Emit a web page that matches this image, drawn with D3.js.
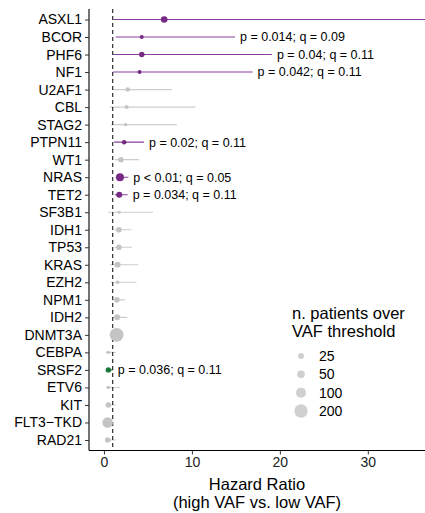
<!DOCTYPE html>
<html>
<head>
<meta charset="utf-8">
<script src="https://cdn.jsdelivr.net/npm/d3@7"></script>
<style>
  body { margin: 0; background: #fff; }
  svg { display: block; font-family: "Liberation Sans", Arial, sans-serif; }
</style>
</head>
<body>
<div id="chart"></div>
<script>
const genes = ['ASXL1', 'BCOR', 'PHF6', 'NF1', 'U2AF1', 'CBL', 'STAG2', 'PTPN11', 'WT1', 'NRAS',
    'TET2', 'SF3B1', 'IDH1', 'TP53', 'KRAS', 'EZH2', 'NPM1', 'IDH2', 'DNMT3A', 'CEBPA',
    'SRSF2', 'ETV6', 'KIT', 'FLT3\u2212TKD', 'RAD21'];
const hr = [6.85, 4.3, 4.3, 4.05, 2.7, 2.58, 2.47, 2.3, 1.93, 1.82,
    1.74, 1.74, 1.7, 1.7, 1.55, 1.55, 1.48, 1.5, 1.44, 0.5,
    0.5, 0.5, 0.5, 0.42, 0.42];
const lower = [1.06, 1.33, 1.05, 1.05, 1.0, 0.68, 0.8, 1.14, 1.25, 1.33,
    1.25, 0.5, 1.2, 1.2, 0.68, 0.8, 1.0, 1.0, 1.1, 0.2,
    0.26, 0.23, 0.2, 0.18, 0.18];
const upper = [45, 14.9, 19.1, 16.9, 7.7, 10.4, 8.3, 4.55, 4.0, 2.77,
    2.7, 5.6, 3.1, 3.2, 3.9, 3.7, 2.4, 2.65, 1.75, 1.33,
    1.0, 1.8, 1.33, 0.95, 1.36];
const nPatients = [33, 6, 18, 6, 10, 6, 3, 10, 18, 55,
    25, 2, 20, 20, 25, 4, 20, 25, 220, 3,
    18, 3, 18, 114, 18];
// genes with p < 0.05 (coloured by direction)
const significant = ['ASXL1', 'BCOR', 'PHF6', 'NF1', 'PTPN11', 'NRAS', 'TET2', 'SRSF2'];
const annotGenes = ['BCOR', 'PHF6', 'NF1', 'PTPN11', 'NRAS', 'TET2', 'SRSF2'];
const annotText = ['p = 0.014; q = 0.09', 'p = 0.04; q = 0.11', 'p = 0.042; q = 0.11',
    'p = 0.02; q = 0.11', 'p < 0.01; q = 0.05', 'p = 0.034; q = 0.11', 'p = 0.036; q = 0.11'];
const xTicks = [0, 10, 20, 30];
const legendSizes = [25, 50, 100, 200];

const width = 425, height = 513;
const plotLeft = 89, plotRight = 425, plotTop = 9, plotBottom = 450.5;

const rows = genes.map((g, i) => {
    const a = annotGenes.indexOf(g);
    return {
        gene: g, hr: hr[i], lo: lower[i], hi: upper[i], n: nPatients[i],
        sig: significant.includes(g),
        label: a >= 0 ? annotText[a] : null
    };
});

const purple = '#762a83', green = '#1b7837', grey = '#c4c4c4';
const colorOf = d => d.sig ? (d.hr > 1 ? purple : green) : grey;
const lineColorOf = d => d.sig ? (d.hr > 1 ? '#86409a' : green) : '#cdcdcd';

const svg = d3.select('#chart').append('svg')
    .attr('width', width)
    .attr('height', height);

const x = d3.scaleLinear().domain([-1.7, 36.5]).range([plotLeft, plotRight]);
const y = d3.scalePoint().domain(genes).range([plotTop, plotBottom]).padding(0.6);
const r = d3.scaleSqrt().domain([0, 200]).range([1, 6.7]);

svg.append('clipPath').attr('id', 'plotclip')
    .append('rect')
    .attr('x', plotLeft).attr('y', plotTop)
    .attr('width', plotRight - plotLeft).attr('height', plotBottom - plotTop);

const plot = svg.append('g').attr('clip-path', 'url(#plotclip)');

// confidence intervals
plot.selectAll('.ci')
    .data(rows)
    .enter()
    .append('line')
    .attr('class', 'ci')
    .attr('x1', d => x(d.lo))
    .attr('x2', d => x(d.hi))
    .attr('y1', d => y(d.gene))
    .attr('y2', d => y(d.gene))
    .attr('stroke', lineColorOf)
    .attr('stroke-width', 1.1);

// reference line at HR = 1
plot.append('line')
    .attr('x1', x(1)).attr('x2', x(1))
    .attr('y1', plotTop).attr('y2', plotBottom)
    .attr('stroke', '#000')
    .attr('stroke-width', 1)
    .attr('stroke-dasharray', '4,3');

plot.selectAll('.pt')
    .data(rows)
    .enter()
    .append('circle')
    .attr('class', 'pt')
    .attr('cx', d => x(d.hr))
    .attr('cy', d => y(d.gene))
    .attr('r', d => r(d.n))
    .attr('fill', colorOf);

plot.selectAll('.lab')
    .data(rows.filter(d => d.label))
    .enter()
    .append('text')
    .attr('class', 'lab')
    .attr('x', d => x(d.hi) + 5)
    .attr('y', d => y(d.gene))
    .attr('dy', '0.35em')
    .attr('font-size', 12.5)
    .attr('fill', '#000')
    .text(d => d.label);

// y axis
const yAxis = svg.append('g')
    .attr('transform', `translate(${plotLeft},0)`)
    .call(d3.axisLeft(y).tickSize(4).tickPadding(3));
yAxis.select('.domain').attr('d', `M0,${plotTop}V${plotBottom}`).attr('stroke', '#000').attr('stroke-width', 1.1);
yAxis.selectAll('.tick line').attr('stroke', '#333');
yAxis.selectAll('text').attr('font-size', 14).attr('fill', '#000').attr('font-family', 'Liberation Sans, Arial, sans-serif');

// x axis
const xAxis = svg.append('g')
    .attr('transform', `translate(0,${plotBottom})`)
    .call(d3.axisBottom(x).tickValues(xTicks).tickSize(4).tickPadding(3));
xAxis.select('.domain').attr('d', `M${plotLeft},0H${plotRight}`).attr('stroke', '#000').attr('stroke-width', 1.1);
xAxis.selectAll('.tick line').attr('stroke', '#333');
xAxis.selectAll('text').attr('font-size', 14).attr('fill', '#222').attr('font-family', 'Liberation Sans, Arial, sans-serif');

const midX = (plotLeft + plotRight) / 2;
svg.append('text')
    .attr('x', midX).attr('y', 490)
    .attr('text-anchor', 'middle')
    .attr('font-size', 16.5)
    .text('Hazard Ratio');
svg.append('text')
    .attr('x', midX).attr('y', 508)
    .attr('text-anchor', 'middle')
    .attr('font-size', 16.5)
    .text('(high VAF vs. low VAF)');

// size legend
const legend = svg.append('g');
legend.append('text')
    .attr('x', 292).attr('y', 319)
    .attr('font-size', 16.5)
    .text('n. patients over');
legend.append('text')
    .attr('x', 292).attr('y', 337)
    .attr('font-size', 16.5)
    .text('VAF threshold');

const ly = d3.scalePoint().domain(legendSizes).range([356, 411]);
const items = legend.selectAll('.item')
    .data(legendSizes)
    .enter()
    .append('g')
    .attr('class', 'item')
    .attr('transform', d => `translate(301,${ly(d)})`);
items.append('circle')
    .attr('r', d => r(d))
    .attr('fill', '#d0d0d0');
items.append('text')
    .attr('x', 18)
    .attr('dy', '0.35em')
    .attr('font-size', 14)
    .text(d => d);
</script>
</body>
</html>
